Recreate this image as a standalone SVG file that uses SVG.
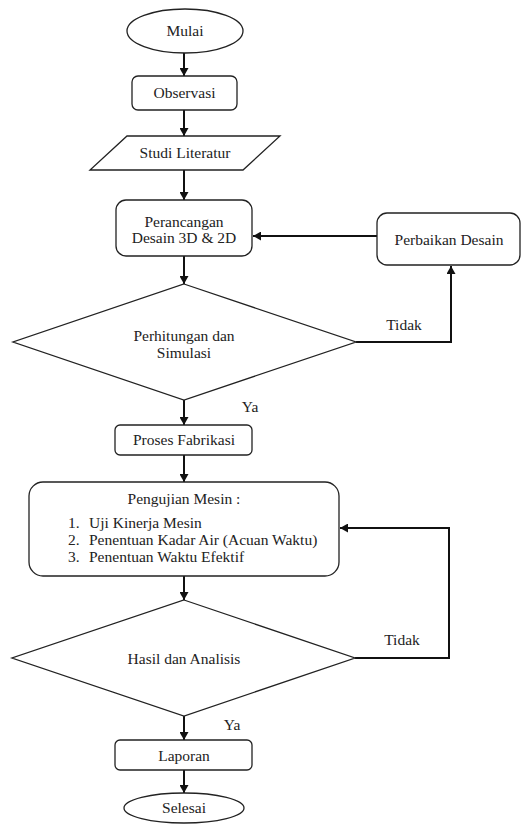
<svg xmlns="http://www.w3.org/2000/svg" width="521" height="825" viewBox="0 0 521 825">
<style>
.s{fill:#fff;stroke:#222;stroke-width:1.3}
.t{font-size:15.5px;fill:#222}
.c{text-anchor:middle}
.e{fill:none;stroke:#111;stroke-width:2}
</style>
<defs>
<marker id="ah" markerUnits="userSpaceOnUse" markerWidth="9" markerHeight="9" refX="8" refY="4.5" orient="auto">
<path d="M0,0 L8,4.5 L0,9 z" fill="#111"/>
</marker>
</defs>
<rect width="521" height="825" fill="#fff"/>
<g id="connectors">
<line class="e" x1="184" y1="53" x2="184" y2="76" marker-end="url(#ah)"/>
<line class="e" x1="184" y1="110" x2="184" y2="136" marker-end="url(#ah)"/>
<line class="e" x1="184" y1="170" x2="184" y2="200" marker-end="url(#ah)"/>
<line class="e" x1="184" y1="256" x2="184" y2="284" marker-end="url(#ah)"/>
<line class="e" x1="377" y1="236" x2="253" y2="236" marker-end="url(#ah)"/>
<polyline class="e" points="356,342 451,342 451,266" marker-end="url(#ah)"/>
<line class="e" x1="184" y1="400" x2="184" y2="425" marker-end="url(#ah)"/>
<line class="e" x1="184" y1="455" x2="184" y2="482" marker-end="url(#ah)"/>
<line class="e" x1="184" y1="576" x2="184" y2="600" marker-end="url(#ah)"/>
<polyline class="e" points="355,658 449,658 449,528 340,528" marker-end="url(#ah)"/>
<line class="e" x1="184" y1="716" x2="184" y2="740" marker-end="url(#ah)"/>
<line class="e" x1="184" y1="770" x2="184" y2="793" marker-end="url(#ah)"/>
<text font-family="Liberation Serif" class="t c" x="404" y="330">Tidak</text>
<text font-family="Liberation Serif" class="t c" x="250" y="412">Ya</text>
<text font-family="Liberation Serif" class="t c" x="402" y="645">Tidak</text>
<text font-family="Liberation Serif" class="t c" x="232" y="730">Ya</text>
</g>
<g id="mulai">
<ellipse class="s" cx="185" cy="31" rx="58" ry="22"/>
<text font-family="Liberation Serif" class="t c" x="185" y="36">Mulai</text>
</g>
<g id="observasi">
<rect class="s" x="132" y="76" width="105" height="34" rx="6"/>
<text font-family="Liberation Serif" class="t c" x="184.5" y="98">Observasi</text>
</g>
<g id="studi">
<polygon class="s" points="127,136 280,136 243,170 90,170"/>
<text font-family="Liberation Serif" class="t c" x="185" y="158">Studi Literatur</text>
</g>
<g id="perancangan">
<rect class="s" x="116" y="200" width="136" height="56" rx="10"/>
<text font-family="Liberation Serif" class="t c" x="184" y="227">Perancangan</text>
<text font-family="Liberation Serif" class="t c" x="184" y="243">Desain 3D &amp; 2D</text>
</g>
<g id="perbaikan">
<rect class="s" x="377" y="213" width="143" height="52" rx="10"/>
<text font-family="Liberation Serif" class="t c" x="449" y="245">Perbaikan Desain</text>
</g>
<g id="perhitungan">
<polygon class="s" points="184,284 356,342 184,400 13,342"/>
<text font-family="Liberation Serif" class="t c" x="184" y="341">Perhitungan dan</text>
<text font-family="Liberation Serif" class="t c" x="184" y="358">Simulasi</text>
</g>
<g id="fabrikasi">
<rect class="s" x="115" y="425" width="137" height="30" rx="5"/>
<text font-family="Liberation Serif" class="t c" x="184" y="445">Proses Fabrikasi</text>
</g>
<g id="pengujian">
<rect class="s" x="29" y="482" width="310" height="94" rx="14"/>
<text font-family="Liberation Serif" class="t c" x="184" y="504">Pengujian Mesin :</text>
<text font-family="Liberation Serif" class="t" x="68" y="528">1.</text><text font-family="Liberation Serif" class="t" x="89" y="528">Uji Kinerja Mesin</text>
<text font-family="Liberation Serif" class="t" x="68" y="545">2.</text><text font-family="Liberation Serif" class="t" x="89" y="545">Penentuan Kadar Air (Acuan Waktu)</text>
<text font-family="Liberation Serif" class="t" x="68" y="562">3.</text><text font-family="Liberation Serif" class="t" x="89" y="562">Penentuan Waktu Efektif</text>
</g>
<g id="hasil">
<polygon class="s" points="184,600 355,658 184,716 12,658"/>
<text font-family="Liberation Serif" class="t c" x="184" y="664">Hasil dan Analisis</text>
</g>
<g id="laporan">
<rect class="s" x="115" y="740" width="137" height="30" rx="5"/>
<text font-family="Liberation Serif" class="t c" x="184" y="761">Laporan</text>
</g>
<g id="selesai">
<ellipse class="s" cx="184" cy="808" rx="60" ry="15"/>
<text font-family="Liberation Serif" class="t c" x="184" y="813">Selesai</text>
</g>
</svg>
